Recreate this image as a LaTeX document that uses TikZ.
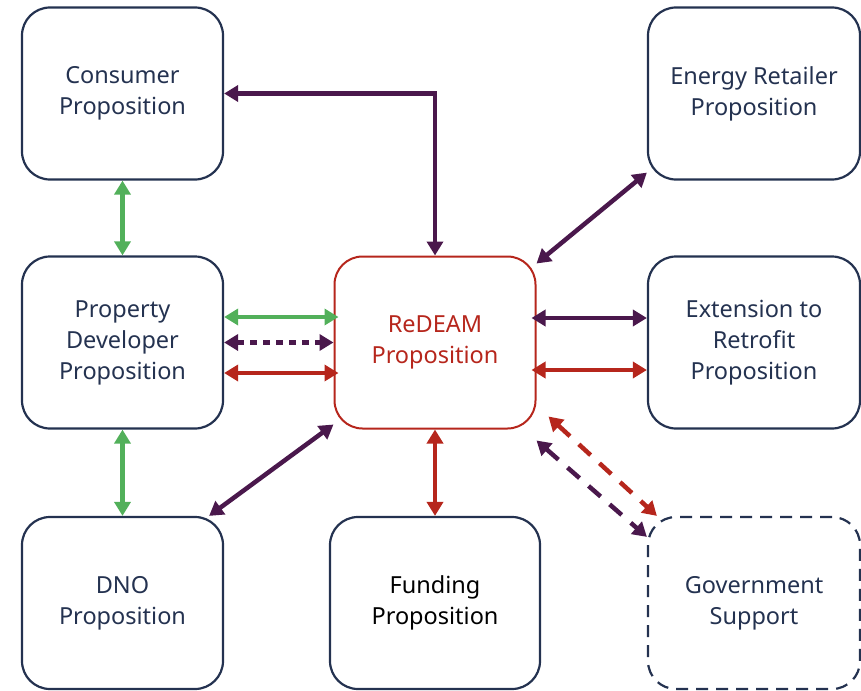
\documentclass[tikz,border=0pt]{standalone}
\usepackage{fontspec}
\setmainfont{Noto Sans}
\usetikzlibrary{arrows.meta}
\definecolor{navy}{RGB}{36,50,80}
\definecolor{brick}{RGB}{182,38,28}
\definecolor{plum}{RGB}{74,24,76}
\definecolor{leaf}{RGB}{82,176,90}
\tikzset{
  prop/.style={draw=navy, line width=2.2pt, rounded corners=28pt, minimum width=201pt,
    minimum height=172pt, inner sep=0pt, align=center, text=navy,
    font=\fontsize{23.5}{31}\selectfont},
  wide/.style={minimum width=212pt},
  link/.style={line width=4.5pt, {Triangle[length=14pt,width=16pt]}-{Triangle[length=14pt,width=16pt]}},
}
\begin{document}
\begin{tikzpicture}[x=1pt,y=-1pt]
  \useasboundingbox (0,0) rectangle (861,690);
  % boxes
  \node[prop] (consumer) at (122.5,93.5) {Consumer\\Proposition};
  \node[prop,wide] (retailer) at (754,93.5) {Energy Retailer\\Proposition};
  \node[prop] (developer) at (122.5,342.5) {Property\\Developer\\Proposition};
  \node[prop,draw=brick,text=brick,line width=2pt] (redeam) at (435,342.5) {ReDEAM\\Proposition};
  \node[prop,wide] (retrofit) at (754,342.5) {Extension to\\Retrofit\\Proposition};
  \node[prop] (dno) at (122.5,603) {DNO\\Proposition};
  \node[prop,minimum width=210pt,text=black] (funding) at (435,603) {Funding\\Proposition};
  \node[prop,wide,dash pattern=on 12pt off 8pt] (gov) at (754,603) {Government\\Support};

  % links
  \draw[link,plum] (redeam.north) |- (consumer.east);
  \draw[link,leaf] (consumer) -- (developer);
  \draw[link,leaf] (developer) -- (dno);
  \draw[link,plum] ([yshift=-8pt]redeam.north east) -- ([yshift=8pt]retailer.south west);
  \draw[link,leaf] ([yshift=25.5pt]developer.east) -- ([shift={(5pt,25.5pt)}]redeam.west);
  \draw[link,plum,dash pattern=on 7pt off 6pt] (developer.east) -- (redeam.west);
  \draw[link,brick] ([yshift=-30.5pt]developer.east) -- ([shift={(5pt,-30.5pt)}]redeam.west);
  \draw[link,plum] ([shift={(-5pt,24.5pt)}]redeam.east) -- ([yshift=24.5pt]retrofit.west);
  \draw[link,brick] ([shift={(-5pt,-27.5pt)}]redeam.east) -- ([yshift=-27.5pt]retrofit.west);
  \draw[link,plum] ([xshift=-15pt]dno.north east) -- ([yshift=5pt]redeam.south west);
  \draw[link,brick] (redeam) -- (funding);
  \draw[link,brick,dash pattern=on 16pt off 12pt] ([shift={(12pt,13pt)}]redeam.south east) -- ([xshift=10pt]gov.north west);
  \draw[link,plum,dash pattern=on 16pt off 12pt] ([yshift=-11pt]redeam.south east) -- ([yshift=-21pt]gov.north west);
\end{tikzpicture}
\end{document}
